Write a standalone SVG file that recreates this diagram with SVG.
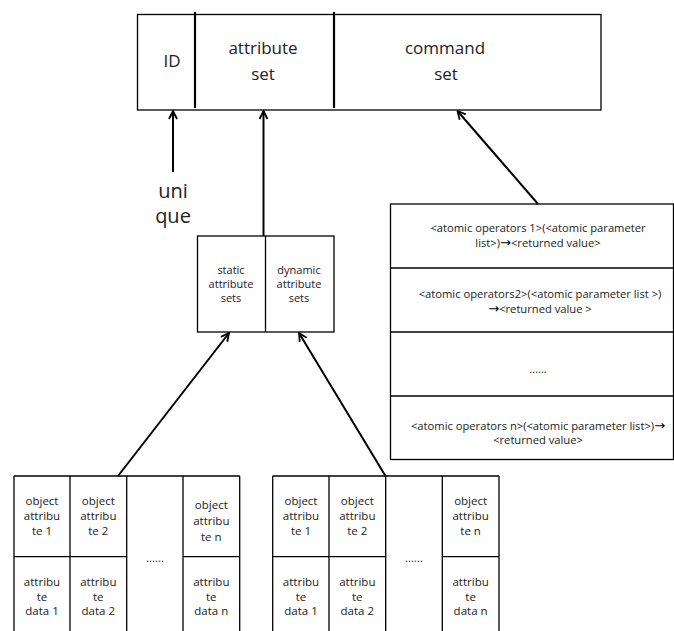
<svg xmlns="http://www.w3.org/2000/svg" width="674" height="631" viewBox="0 0 674 631">
<defs>
<style>
.box{fill:#fff;stroke:#000;stroke-width:1.3}
.ln{stroke:#000;stroke-width:1.3;fill:none}
.div{stroke:#000;stroke-width:2.2}
.arr{stroke:#000;stroke-width:2;fill:none}
text{font-family:"Open Sans","Liberation Sans",sans-serif;fill:#222;text-anchor:middle}
.big{font-size:17px}
.uq{font-size:20px}
.sm{font-size:11px}
.cmd{font-size:11.2px}
.tb{font-size:11.5px}
.ar{font-family:"DejaVu Sans",sans-serif;font-size:13px;fill:#000}
</style>
<marker id="ah" viewBox="0 0 10 10" refX="9" refY="5" markerWidth="10" markerHeight="10" markerUnits="userSpaceOnUse" orient="auto">
<path d="M1,1 L9,5 L1,9" fill="none" stroke="#000" stroke-width="1.8"/>
</marker>
</defs>
<rect width="674" height="631" fill="#fff"/>

<g id="top-box">
<rect class="box" x="137.5" y="14.5" width="463.5" height="95.5"/>
<line class="div" x1="195" y1="12" x2="195" y2="108"/>
<line class="div" x1="334" y1="12" x2="334" y2="108"/>
<text class="big" x="172" y="67">ID</text>
<text class="big" x="263" y="54">attribute</text>
<text class="big" x="263" y="80">set</text>
<text class="big" x="445" y="54">command</text>
<text class="big" x="446" y="80">set</text>
</g>

<g id="unique-label">
<text class="uq" x="173" y="198">uni</text>
<text class="uq" x="173" y="223">que</text>
</g>

<g id="attr-sets">
<rect class="box" x="197.5" y="236" width="136.5" height="96"/>
<line class="ln" x1="265.5" y1="236" x2="265.5" y2="332"/>
<text class="sm" x="231" y="274">static</text>
<text class="sm" x="231" y="288">attribute</text>
<text class="sm" x="231" y="302">sets</text>
<text class="sm" x="299" y="274">dynamic</text>
<text class="sm" x="299" y="288">attribute</text>
<text class="sm" x="299" y="302">sets</text>
</g>

<g id="command-list">
<rect class="box" x="390.5" y="204" width="283" height="255.5"/>
<line class="ln" x1="390.5" y1="268" x2="674" y2="268"/>
<line class="ln" x1="390.5" y1="332" x2="674" y2="332"/>
<line class="ln" x1="390.5" y1="396" x2="674" y2="396"/>
<text class="cmd" x="538" y="232">&lt;atomic operators 1&gt;(&lt;atomic parameter</text>
<text class="cmd" x="538" y="247">list&gt;)<tspan class="ar">→</tspan>&lt;returned value&gt;</text>
<text class="cmd" x="540" y="298">&lt;atomic operators2&gt;(&lt;atomic parameter list &gt;)</text>
<text class="cmd" x="540" y="313"><tspan class="ar">→</tspan>&lt;returned value &gt;</text>
<text class="cmd" x="538" y="373">......</text>
<text class="cmd" x="538" y="430">&lt;atomic operators n&gt;(&lt;atomic parameter list&gt;)<tspan class="ar">→</tspan></text>
<text class="cmd" x="538" y="444">&lt;returned value&gt;</text>
</g>

<g id="left-table">
<line class="ln" x1="14" y1="476" x2="239.7" y2="476"/>
<line class="ln" x1="14" y1="476" x2="14" y2="631"/>
<line class="ln" x1="70" y1="476" x2="70" y2="631"/>
<line class="ln" x1="126.7" y1="476" x2="126.7" y2="631"/>
<line class="ln" x1="183" y1="476" x2="183" y2="631"/>
<line class="ln" x1="239.7" y1="476" x2="239.7" y2="631"/>
<line class="ln" x1="14" y1="556.7" x2="126.7" y2="556.7"/>
<line class="ln" x1="183" y1="556.7" x2="239.7" y2="556.7"/>
<text class="tb" x="42" y="505">object</text>
<text class="tb" x="42" y="520">attribu</text>
<text class="tb" x="42" y="535">te 1</text>
<text class="tb" x="98.3" y="505">object</text>
<text class="tb" x="98.3" y="520">attribu</text>
<text class="tb" x="98.3" y="535">te 2</text>
<text class="tb" x="211.3" y="509">object</text>
<text class="tb" x="211.3" y="525">attribu</text>
<text class="tb" x="211.3" y="541">te n</text>
<text class="tb" x="155" y="562">......</text>
<text class="tb" x="42" y="586">attribu</text>
<text class="tb" x="42" y="601">te</text>
<text class="tb" x="42" y="615">data 1</text>
<text class="tb" x="98.3" y="586">attribu</text>
<text class="tb" x="98.3" y="601">te</text>
<text class="tb" x="98.3" y="615">data 2</text>
<text class="tb" x="211.3" y="586">attribu</text>
<text class="tb" x="211.3" y="601">te</text>
<text class="tb" x="211.3" y="615">data n</text>
</g>

<g id="right-table">
<line class="ln" x1="272.7" y1="476" x2="499" y2="476"/>
<line class="ln" x1="272.7" y1="476" x2="272.7" y2="631"/>
<line class="ln" x1="329" y1="476" x2="329" y2="631"/>
<line class="ln" x1="385.7" y1="476" x2="385.7" y2="631"/>
<line class="ln" x1="442.3" y1="476" x2="442.3" y2="631"/>
<line class="ln" x1="499" y1="476" x2="499" y2="631"/>
<line class="ln" x1="272.7" y1="556.7" x2="385.7" y2="556.7"/>
<line class="ln" x1="442.3" y1="556.7" x2="499" y2="556.7"/>
<text class="tb" x="301" y="505">object</text>
<text class="tb" x="301" y="520">attribu</text>
<text class="tb" x="301" y="535">te 1</text>
<text class="tb" x="357.3" y="505">object</text>
<text class="tb" x="357.3" y="520">attribu</text>
<text class="tb" x="357.3" y="535">te 2</text>
<text class="tb" x="470.6" y="505">object</text>
<text class="tb" x="470.6" y="520">attribu</text>
<text class="tb" x="470.6" y="535">te n</text>
<text class="tb" x="414" y="562">......</text>
<text class="tb" x="301" y="586">attribu</text>
<text class="tb" x="301" y="601">te</text>
<text class="tb" x="301" y="615">data 1</text>
<text class="tb" x="357.3" y="586">attribu</text>
<text class="tb" x="357.3" y="601">te</text>
<text class="tb" x="357.3" y="615">data 2</text>
<text class="tb" x="470.6" y="586">attribu</text>
<text class="tb" x="470.6" y="601">te</text>
<text class="tb" x="470.6" y="615">data n</text>
</g>

<g id="connectors">
<line class="arr" x1="173" y1="172" x2="173" y2="111" marker-end="url(#ah)"/>
<line class="arr" x1="263.5" y1="236" x2="263.5" y2="111" marker-end="url(#ah)"/>
<line class="arr" x1="538" y1="204" x2="457.5" y2="111" marker-end="url(#ah)"/>
<line class="arr" x1="118" y1="476" x2="229" y2="333" marker-end="url(#ah)"/>
<line class="arr" x1="385.5" y1="476" x2="299" y2="333" marker-end="url(#ah)"/>
</g>
</svg>
